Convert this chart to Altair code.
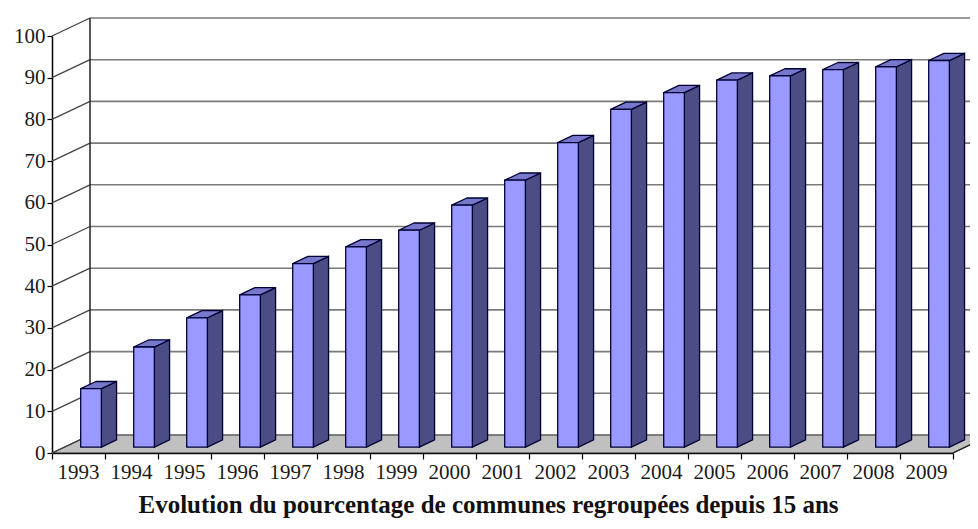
import altair as alt
import pandas as pd

# ---- data ----
years = ["1993", "1994", "1995", "1996", "1997", "1998", "1999", "2000", "2001",
         "2002", "2003", "2004", "2005", "2006", "2007", "2008", "2009"]
values = [14, 24, 31, 36.5, 44, 48, 52, 58, 64, 73, 81, 85, 88, 89, 90.5, 91.2, 92.7]
y_ticks = [0, 10, 20, 30, 40, 50, 60, 70, 80, 90, 100]
title_text = "Evolution du pourcentage de communes regroupées depuis 15 ans"

# ---- pseudo-3D geometry (in data units of the scales) ----
N = len(years)
DX, DY = 38 / 53, 18 / 4.17        # depth of the back wall
F1 = 0.33                           # depth of the bar front face
BD = 0.40                           # bar depth
BW = 0.39                           # bar front width

FONT = "Liberation Serif"
XS = alt.Scale(domain=[0, N], nice=False, zero=False)
YS = alt.Scale(domain=[0, 100], nice=False, zero=False)
XAX = alt.Axis(values=list(range(N + 1)), labels=False, tickSize=6,
               tickColor="black", domainColor="black", domainWidth=1.5,
               tickWidth=1.2, grid=False, title="")
YAX = alt.Axis(values=y_ticks, tickSize=5, labelPadding=2,
               labelFont=FONT, labelFontSize=21, labelColor="#1a1a1a",
               tickColor="black", domainColor="black", domainWidth=1.5,
               tickWidth=1.2, grid=False, title="")


def X(field):
    return alt.X(field, scale=XS, axis=XAX)


def Y(field):
    return alt.Y(field, scale=YS, axis=YAX)


front, side, top, labels = [], [], [], []
for i, (yr, v) in enumerate(zip(years, values)):
    xl = i + 0.5 + F1 * DX - BW / 2
    xr = xl + BW
    yb = F1 * DY
    yt = v + F1 * DY
    front.append({"id": yr, "x": xl, "x2": xr, "y": yb, "y2": yt})
    side.append({"id": yr, "x": xr, "y": yb, "y2": yt})
    side.append({"id": yr, "x": xr + BD * DX, "y": yb + BD * DY, "y2": yt + BD * DY})
    top.append({"id": yr, "y": yt, "x": xl, "x2": xr})
    top.append({"id": yr, "y": yt + BD * DY, "x": xl + BD * DX, "x2": xr + BD * DX})
    labels.append({"year": yr, "x": i + 0.5, "y": 0})

front_df = pd.DataFrame(front)
side_df = pd.DataFrame(side)
top_df = pd.DataFrame(top)
labels_df = pd.DataFrame(labels)

floor_df = pd.DataFrame([
    {"y": 0, "x": 0, "x2": N},
    {"y": DY, "x": DX, "x2": N + DX},
])
grid_df = pd.DataFrame([{"x": DX, "x2": N + DX, "y": t + DY} for t in y_ticks])
diag_df = pd.DataFrame([{"x": 0, "x2": DX, "y": t, "y2": t + DY} for t in y_ticks])
wall_df = pd.DataFrame([{"x": DX, "y": DY, "y2": 100 + DY}])
rightedge_df = pd.DataFrame([{"x": N, "x2": N + DX, "y": 0, "y2": DY}])

GRID = "#7a7a7a"

floor = alt.Chart(floor_df).mark_area(
    orient="horizontal", color="#c0c0c0", stroke="#222222", strokeWidth=1.2
).encode(y=Y("y:Q"), x=X("x:Q"), x2="x2:Q")

grid = alt.Chart(grid_df).mark_rule(color=GRID, strokeWidth=1.6).encode(
    x=X("x:Q"), x2="x2:Q", y=Y("y:Q"))
diag = alt.Chart(diag_df).mark_rule(color="#444444", strokeWidth=1.3).encode(
    x=X("x:Q"), x2="x2:Q", y=Y("y:Q"), y2="y2:Q")
wall = alt.Chart(wall_df).mark_rule(color="#222222", strokeWidth=1.5).encode(
    x=X("x:Q"), y=Y("y:Q"), y2="y2:Q")
rightedge = alt.Chart(rightedge_df).mark_rule(color="#222222", strokeWidth=1.2).encode(
    x=X("x:Q"), x2="x2:Q", y=Y("y:Q"), y2="y2:Q")

bar_front = alt.Chart(front_df).mark_rect(
    color="#9999ff", stroke="#000033", strokeWidth=1.3
).encode(x=X("x:Q"), x2="x2:Q", y=Y("y:Q"), y2="y2:Q")
bar_side = alt.Chart(side_df).mark_area(
    color="#4d4d85", stroke="#000033", strokeWidth=1.3
).encode(x=X("x:Q"), y=Y("y:Q"), y2="y2:Q", detail="id:N")
bar_top = alt.Chart(top_df).mark_area(
    orient="horizontal", color="#7777cc", stroke="#000033", strokeWidth=1.3
).encode(y=Y("y:Q"), x=X("x:Q"), x2="x2:Q", detail="id:N")

xlabels = alt.Chart(labels_df).mark_text(
    font=FONT, fontSize=21, color="#1a1a1a", dy=20, baseline="middle"
).encode(x=X("x:Q"), y=Y("y:Q"), text="year:N")

chart = alt.layer(
    floor, grid, diag, wall, rightedge, bar_side, bar_top, bar_front, xlabels
).properties(
    width=901, height=417,
    autosize=alt.AutoSizeParams(type="none"),
    padding={"left": 44, "top": 28, "right": 17, "bottom": 68},
    title=alt.TitleParams(title_text, orient="bottom", font=FONT, fontSize=25,
                          fontWeight="bold", color="#111111", offset=10, dx=-14),
).configure_view(stroke=None, fill="white")

chart.save("out.html", embed_options={"renderer": "svg", "actions": False})
